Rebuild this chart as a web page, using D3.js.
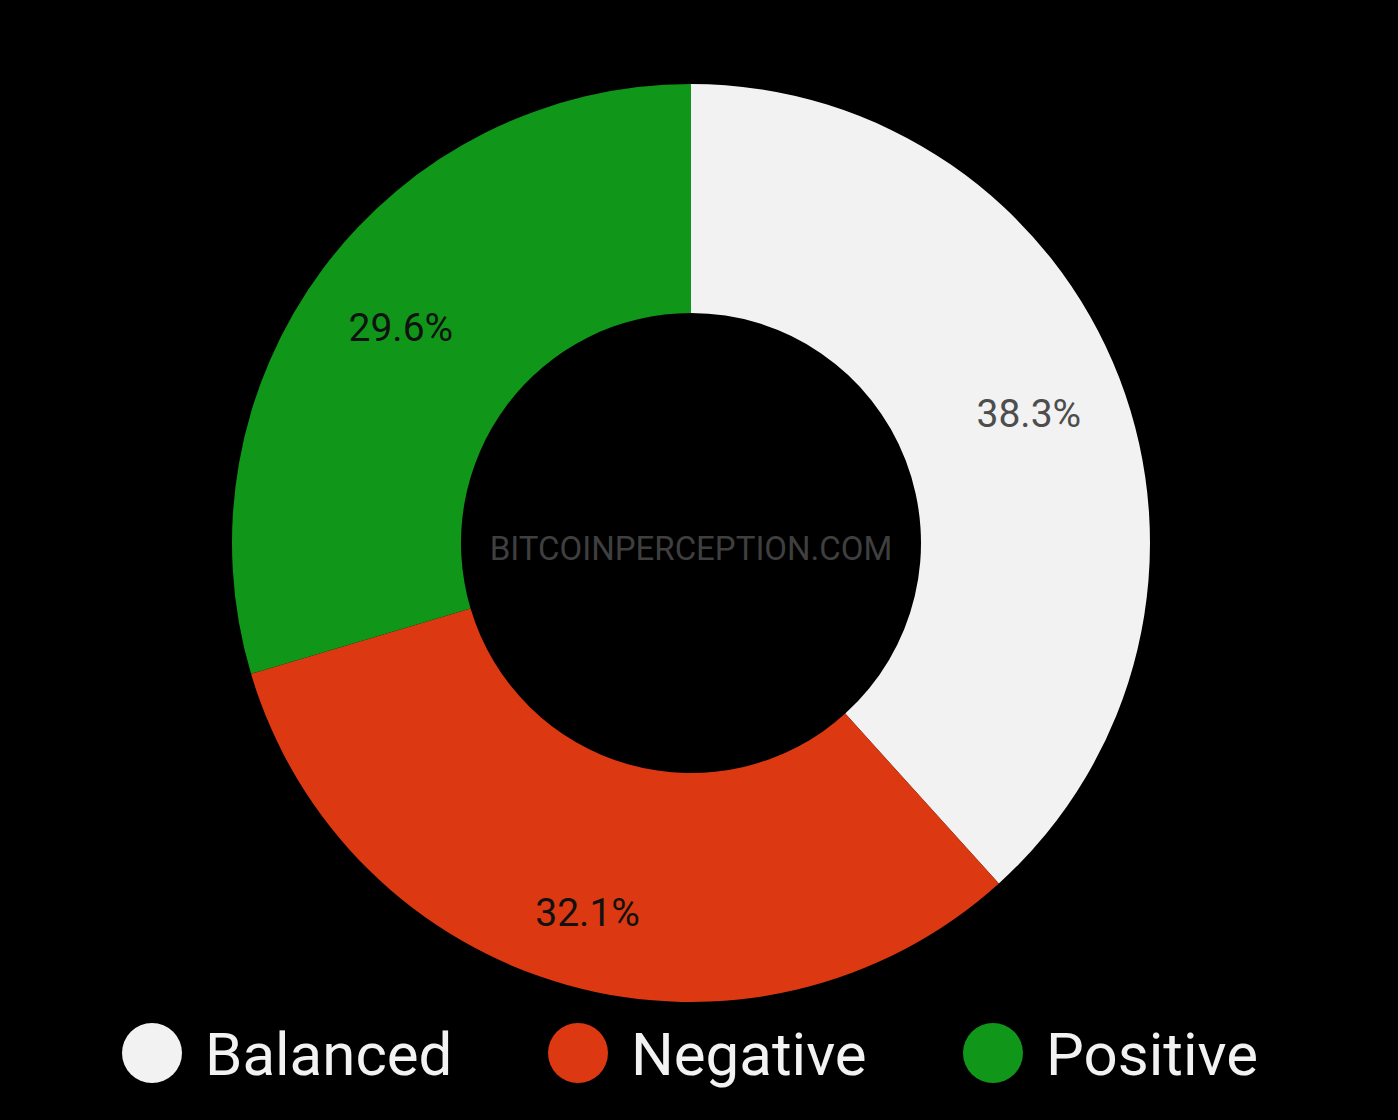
<!DOCTYPE html>
<html>
<head>
<meta charset="utf-8">
<script src="https://cdn.jsdelivr.net/npm/d3@7"></script>
<style>
  html, body { margin: 0; padding: 0; background: #000; }
  svg { display: block; }
  text { font-family: Roboto, "Noto Sans", sans-serif; }
</style>
</head>
<body>
<svg id="chart" width="1398" height="1120"></svg>
<script>
const categories = ["Balanced", "Negative", "Positive"];
const values = [38.3, 32.1, 29.6];
const colors = ["#f2f2f2", "#dc3912", "#109618"];
const labelColors = ["#4d4d4d", "#111111", "#111111"];
const watermark = "BITCOINPERCEPTION.COM";

const svg = d3.select("#chart");
svg.append("rect").attr("width", 1398).attr("height", 1120).attr("fill", "#000");

const cx = 691, cy = 543, R = 459, r0 = 230;
const data = categories.map((c, i) => ({ name: c, value: values[i], color: colors[i], lc: labelColors[i] }));

const pie = d3.pie().value(d => d.value).sort(null);
const arcs = pie(data);
const arc = d3.arc().innerRadius(r0).outerRadius(R);

const g = svg.append("g").attr("transform", `translate(${cx},${cy})`);
g.selectAll("path").data(arcs).join("path")
  .attr("d", arc)
  .attr("fill", d => d.data.color);

// label radius grows slightly for labels near the bottom (text box height)
function labelPos(d) {
  const a = (d.startAngle + d.endAngle) / 2;
  const down = Math.max(0, -Math.cos(a));
  const rr = 362 + 22 * down;
  return [rr * Math.sin(a), -rr * Math.cos(a)];
}

g.selectAll("text.lbl").data(arcs).join("text")
  .attr("class", "lbl")
  .attr("transform", d => {
    const [x, y] = labelPos(d);
    return `translate(${x},${y})`;
  })
  .attr("text-anchor", "middle")
  .attr("dy", "0.36em")
  .attr("font-size", 39)
  .attr("fill", d => d.data.lc)
  .text(d => d.data.value.toFixed(1) + "%");

g.append("text")
  .attr("text-anchor", "middle")
  .attr("y", 5)
  .attr("dy", "0.36em")
  .attr("font-size", 33)
  .attr("fill", "#3f3f3f")
  .text(watermark);

// legend
const legendX = [152, 578, 993];
const legend = svg.append("g");
const items = legend.selectAll("g").data(data).join("g")
  .attr("transform", (d, i) => `translate(${legendX[i]},1053)`);
items.append("circle").attr("r", 30).attr("fill", d => d.color);
items.append("text")
  .attr("x", 53)
  .attr("dy", "0.36em")
  .attr("font-size", 60)
  .attr("fill", "#f2f2f2")
  .text(d => d.name);
</script>
</body>
</html>
